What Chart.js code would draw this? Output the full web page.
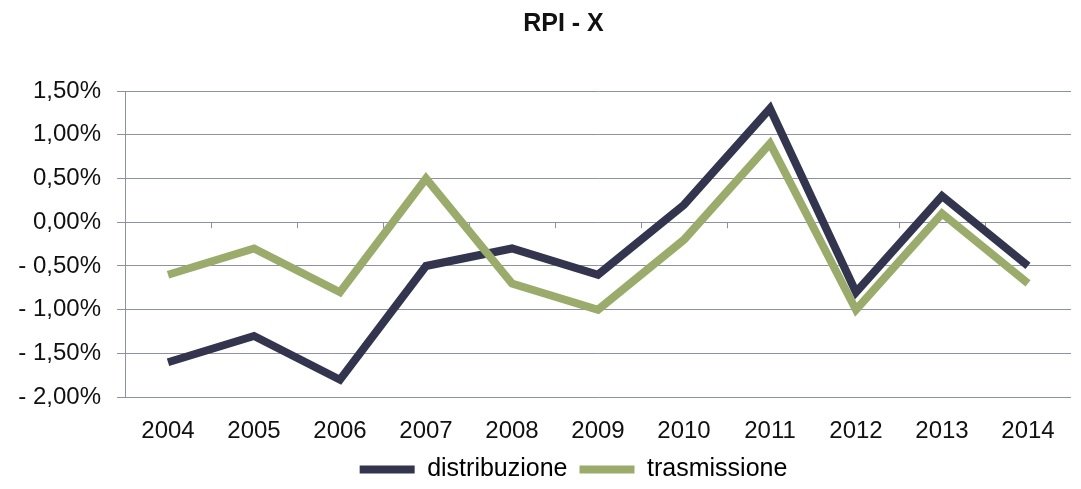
<!DOCTYPE html>
<html>
<head>
<meta charset="utf-8">
<script src="https://cdn.jsdelivr.net/npm/chart.js@4/dist/chart.umd.min.js"></script>
<style>
  html, body { margin: 0; padding: 0; background: #fff; }
  #wrap { width: 1081px; height: 489px; }
</style>
</head>
<body>
<div id="wrap"><canvas id="rpiChart"></canvas></div>
<script>
const years = ['2004', '2005', '2006', '2007', '2008', '2009', '2010', '2011', '2012', '2013', '2014'];
const distribuzione = [-1.6, -1.3, -1.8, -0.5, -0.3, -0.6, 0.2, 1.3, -0.8, 0.3, -0.5];
const trasmissione = [-0.6, -0.3, -0.8, 0.5, -0.7, -1.0, -0.2, 0.9, -1.0, 0.1, -0.7];

const navy = '#33354e';
const green = '#9aab6c';
const gridGray = '#8e92a0';

function formatPct(value) {
  const txt = Math.abs(value).toFixed(2).replace('.', ',') + '%';
  return value < 0 ? '- ' + txt : txt;
}

// small tick marks on the zero line, like the horizontal axis crossing at 0
const zeroTicks = {
  id: 'zeroTicks',
  beforeDatasetsDraw(chart) {
    const x = chart.scales.x;
    const y0 = chart.scales.y.getPixelForValue(0);
    const ctx = chart.ctx;
    ctx.save();
    ctx.strokeStyle = gridGray;
    ctx.lineWidth = 1;
    for (let i = 0; i < years.length - 1; i++) {
      const px = Math.round((x.getPixelForValue(i) + x.getPixelForValue(i + 1)) / 2) + 0.5;
      ctx.beginPath();
      ctx.moveTo(px, y0);
      ctx.lineTo(px, y0 + 6);
      ctx.stroke();
    }
    ctx.restore();
  }
};

// title and legend in the original sit a bit right of centre
const blockShift = {
  id: 'blockShift',
  afterLayout(chart) {
    chart.legend.left += 38;
    chart.legend.right += 38;
    chart.legend.top -= 13;
    chart.legend.bottom -= 13;
    chart.titleBlock.left += 28;
    chart.titleBlock.right += 28;
  }
};

Chart.defaults.font.family = '"Liberation Sans", Arial, sans-serif';
Chart.defaults.color = '#111';

new Chart(document.getElementById('rpiChart'), {
  type: 'line',
  data: {
    labels: years,
    datasets: [
      {
        label: 'distribuzione',
        data: distribuzione,
        borderColor: navy,
        backgroundColor: navy,
        borderWidth: 8,
        pointRadius: 0,
        tension: 0,
        order: 1
      },
      {
        label: 'trasmissione',
        data: trasmissione,
        borderColor: green,
        backgroundColor: green,
        borderWidth: 8,
        pointRadius: 0,
        tension: 0,
        order: 0
      }
    ]
  },
  options: {
    responsive: true,
    maintainAspectRatio: false,
    animation: false,
    layout: { padding: { left: 0, right: 10, top: 0, bottom: -16 } },
    plugins: {
      title: {
        display: true,
        text: 'RPI - X',
        font: { size: 25, weight: 'bold' },
        color: '#111',
        padding: { top: 9, bottom: 52 }
      },
      legend: {
        position: 'bottom',
        labels: {
          boxWidth: 55,
          boxHeight: 8,
          useBorderRadius: true,
          borderRadius: 4,
          font: { size: 25 },
          padding: 12,
          generateLabels(chart) {
            return chart.data.datasets.map((ds, i) => ({
              text: ds.label,
              fillStyle: ds.borderColor,
              strokeStyle: ds.borderColor,
              lineWidth: 0,
              datasetIndex: i,
              hidden: false
            }));
          }
        }
      },
      tooltip: { enabled: false }
    },
    scales: {
      x: {
        offset: true,
        grid: { display: false },
        border: { display: false },
        ticks: { font: { size: 24 }, padding: 12, maxRotation: 0 }
      },
      y: {
        min: -2,
        max: 1.5,
        afterFit(scale) { scale.width = 125; },
        grid: { color: gridGray, tickLength: 8, lineWidth: 1 },
        border: { color: gridGray },
        ticks: {
          stepSize: 0.5,
          font: { size: 24 },
          padding: 16,
          callback: value => formatPct(value)
        }
      }
    }
  },
  plugins: [zeroTicks, blockShift]
});
</script>
</body>
</html>
